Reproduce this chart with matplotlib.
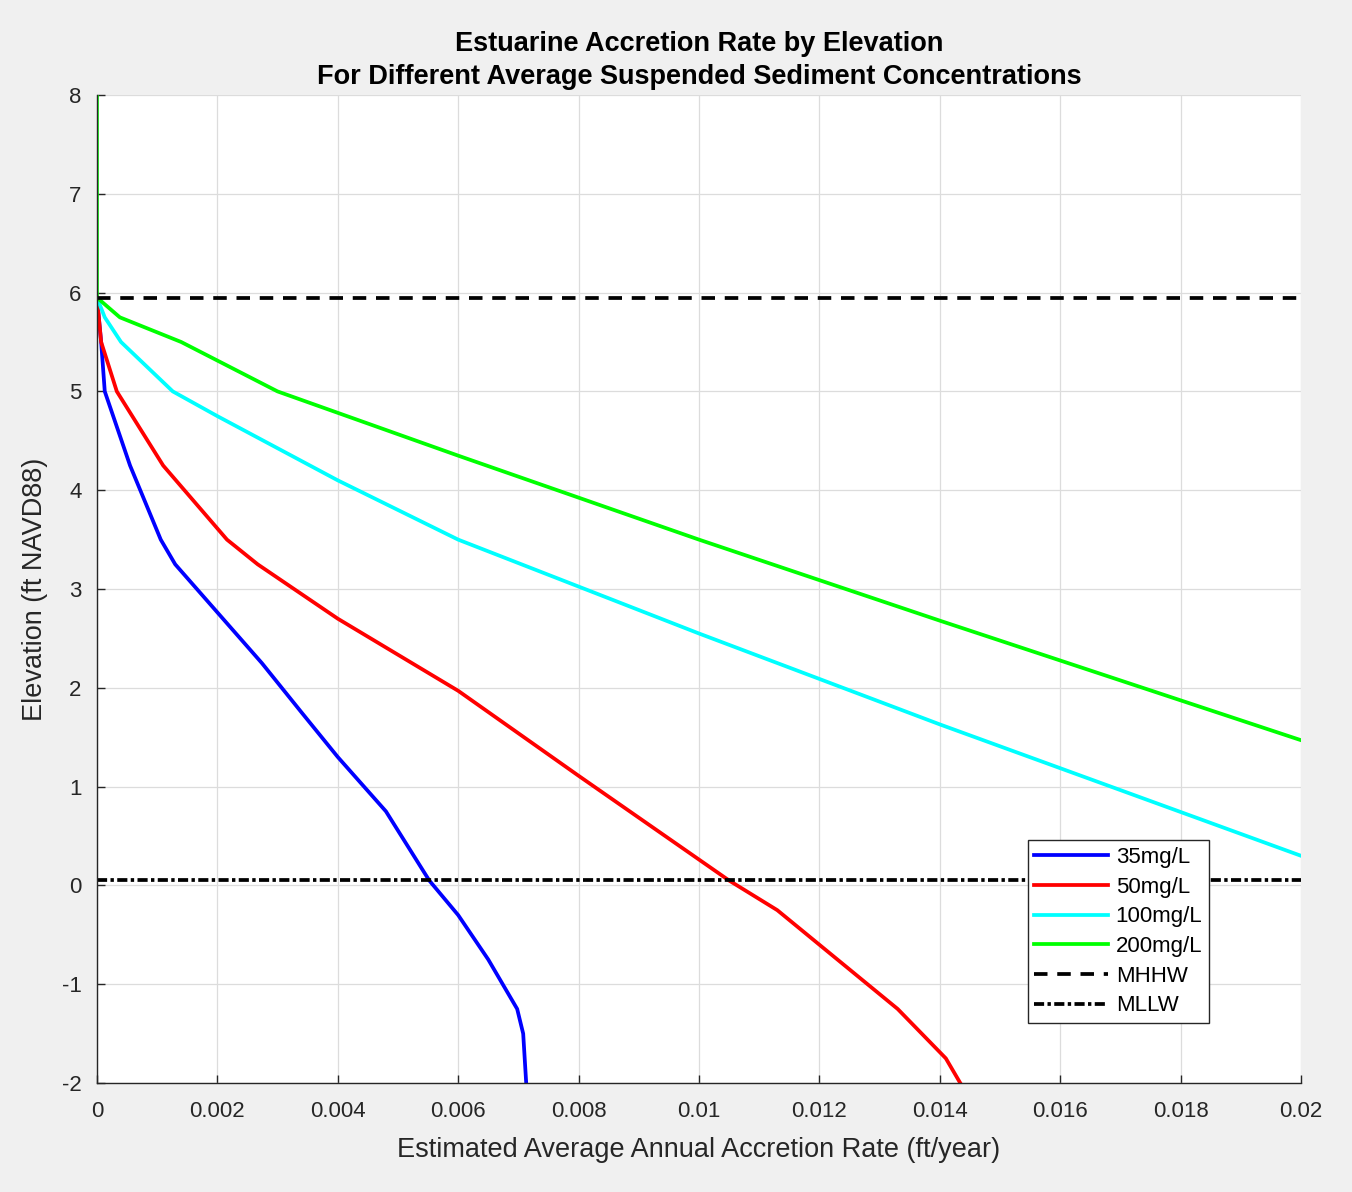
import matplotlib
matplotlib.use("Agg")
import matplotlib.pyplot as plt

plt.rcParams['font.family'] = ['Liberation Sans', 'DejaVu Sans']
plt.rcParams['axes.unicode_minus'] = False

# ---- data ----
MHHW = 5.95
MLLW = 0.06

rate_35 = [0, 0.00007, 0.00013, 0.00055, 0.00106, 0.0013, 0.00274, 0.0034, 0.0040,
           0.0048, 0.00552, 0.0060, 0.0065, 0.00698, 0.00708, 0.00713]
elev_35 = [5.95, 5.5, 5.0, 4.25, 3.5, 3.25, 2.25, 1.75, 1.3,
           0.75, 0.05, -0.3, -0.75, -1.25, -1.5, -2.0]

rate_50 = [0, 0.00007, 0.00033, 0.0011, 0.00216, 0.00267, 0.0040, 0.0060, 0.0080,
           0.0105, 0.0113, 0.0123, 0.0133, 0.0141, 0.01434]
elev_50 = [5.95, 5.5, 5.0, 4.25, 3.5, 3.25, 2.7, 1.97, 1.11,
           0.05, -0.25, -0.75, -1.25, -1.75, -2.0]

rate_100 = [0, 0.00013, 0.0004, 0.00126, 0.0020, 0.0040, 0.0060, 0.0100, 0.0140, 0.0200]
elev_100 = [5.95, 5.75, 5.5, 5.0, 4.75, 4.1, 3.5, 2.55, 1.63, 0.30]

rate_200 = [0, 0, 0.00038, 0.0014, 0.0030, 0.0060, 0.0100, 0.0140, 0.0200]
elev_200 = [8.0, 5.95, 5.75, 5.5, 5.0, 4.35, 3.5, 2.68, 1.47]

fig = plt.figure(figsize=(13.52, 11.92), dpi=100, facecolor='#f0f0f0')
ax = fig.add_axes([0.0717, 0.0914, 0.8906, 0.8289])
ax.set_facecolor('white')

lw = 2.7
ax.plot(rate_35, elev_35, color=(0, 0, 1), lw=lw, label='35mg/L')
ax.plot(rate_50, elev_50, color=(1, 0, 0), lw=lw, label='50mg/L')
ax.plot(rate_100, elev_100, color=(0, 1, 1), lw=lw, label='100mg/L')
ax.plot(rate_200, elev_200, color=(0, 1, 0), lw=lw, label='200mg/L')
ax.axhline(MHHW, color='black', lw=lw, dashes=(3.6, 2.6), label='MHHW')
ax.axhline(MLLW, color='black', lw=lw, dashes=(2.7, 0.9, 0.9, 0.9), label='MLLW')

ax.set_xlim(0, 0.02)
ax.set_ylim(-2, 8)
ax.set_xticks([0, 0.002, 0.004, 0.006, 0.008, 0.01, 0.012, 0.014, 0.016, 0.018, 0.02])
ax.set_xticklabels(['0', '0.002', '0.004', '0.006', '0.008', '0.01', '0.012',
                    '0.014', '0.016', '0.018', '0.02'])
ax.set_yticks(range(-2, 9))
ax.set_yticklabels([str(v) for v in range(-2, 9)])
ax.grid(True, color='#dcdcdc', lw=0.9)
ax.set_axisbelow(True)

for s in ['top', 'right']:
    ax.spines[s].set_visible(False)
for s in ['left', 'bottom']:
    ax.spines[s].set_color('#262626')
    ax.spines[s].set_linewidth(1.0)
ax.tick_params(direction='in', length=6, width=1, colors='#262626', labelsize=16)
ax.tick_params(axis='x', pad=13)
ax.tick_params(axis='y', pad=11)

ax.set_xlabel('Estimated Average Annual Accretion Rate (ft/year)', fontsize=19.5,
              color='#262626', labelpad=11)
ax.set_ylabel('Elevation (ft NAVD88)', fontsize=19.5, color='#262626', labelpad=10)
ax.set_title('Estuarine Accretion Rate by Elevation\nFor Different Average Suspended Sediment Concentrations',
             fontsize=19.5, fontweight='bold', color='black', pad=8, linespacing=1.35)

leg = ax.legend(loc='lower right', bbox_to_anchor=(0.9236, 0.0607), fontsize=16,
                frameon=True, fancybox=False, framealpha=1, handlelength=3.3,
                handletextpad=0.36, labelspacing=0.39, borderpad=0.3, borderaxespad=0)
leg.get_frame().set_edgecolor('#262626')
leg.get_frame().set_linewidth(1.0)

fig.savefig('out.png', dpi=100, facecolor=fig.get_facecolor())
